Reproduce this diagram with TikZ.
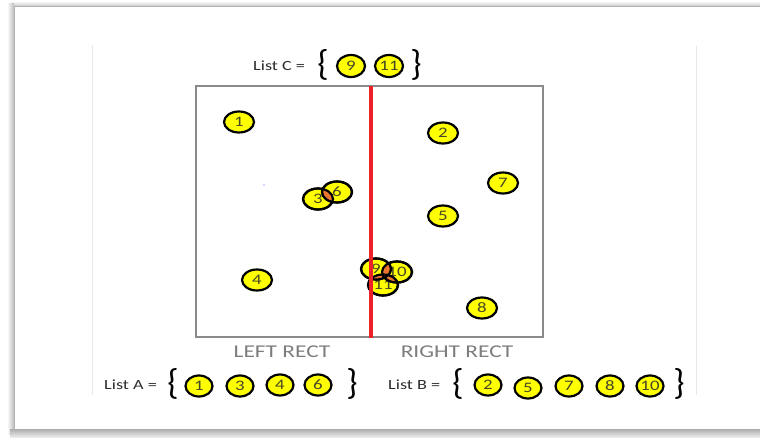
\documentclass[tikz,border=0pt]{standalone}
\usepackage{fontspec}
\setmainfont{Carlito}
\usetikzlibrary{shapes.geometric}

\definecolor{ballyellow}{RGB}{255,255,0}
\definecolor{overlap}{RGB}{236,118,48}
\definecolor{divred}{RGB}{236,34,40}
\definecolor{rectgray}{RGB}{138,138,138}
\definecolor{labelgray}{RGB}{125,125,125}
\definecolor{listtext}{RGB}{45,45,45}
\definecolor{numtext}{RGB}{70,70,40}
\definecolor{panelline}{RGB}{232,232,232}

% text in this figure is set slightly stretched sideways
\newcommand\hwide[1]{\scalebox{1.3}[1]{#1}}

\begin{document}
\begin{tikzpicture}[x=1pt,y=-1pt,
  ball/.style={ellipse, draw=black, line width=2.2pt, fill=ballyellow,
    minimum width=30pt, minimum height=21pt, inner sep=0pt,
    text=numtext, font=\fontsize{14.5}{14.5}\selectfont},
  listball/.style={ball, minimum width=27pt, minimum height=21pt},
  listlabel/.style={anchor=west, inner sep=0pt, text=listtext,
    font=\fontsize{14}{14}\selectfont},
  rectlabel/.style={inner sep=0pt, text=labelgray,
    font=\fontsize{18}{18}\selectfont},
  brace/.style={inner sep=0pt, text=black,
    font=\fontsize{36}{36}\selectfont},
  ring/.style={draw=black, line width=2.2pt}
]
\useasboundingbox (0,0) rectangle (760,438);

% ---- page with its bevelled shadow
\fill[white] (0,0) rectangle (760,438);
\shade[top color=white, bottom color=black!24] (10,1) rectangle (760,7);
\shade[left color=white, right color=black!26] (7,4) rectangle (14,434);
\shade[top color=black!32, bottom color=black!8] (10,429) rectangle (760,437);
\fill[white] (14,7) rectangle (760,429);
\draw[black!30, line width=1pt] (14,429) -- (14,7) -- (760,7);

% ---- faint inner panel edges
\draw[panelline, line width=1pt] (92,45) -- (92,395);
\draw[panelline, line width=1pt] (696,46) -- (696,395);

% ---- the region rectangle and its divider
\node[draw=rectgray, line width=2.4pt, minimum width=347pt, minimum height=251pt,
      inner sep=0pt] (region) at (369.5,211.5) {};
\coordinate (divtop) at (371,86);
\coordinate (divbot) at (371,338);

% ---- points in the plane
\node[ball] (b1)  at (239,122) {\hwide{1}};
\node[ball] (b2)  at (443,133) {\hwide{2}};
\node[ball] (b3)  at (318,199) {\hwide{3}};
\node[ball] (b6)  at (337,192) {\hwide{6}};
\node[ball] (b4)  at (257,280) {\hwide{4}};
\node[ball] (b5)  at (443,216) {\hwide{5}};
\node[ball] (b7)  at (503,183) {\hwide{7}};
\node[ball] (b8)  at (482,308) {\hwide{8}};
\node[ball] (b11) at (383,285) {\hwide{11}};
\node[ball] (b10) at (397,272) {\hwide{10}};
\node[ball] (b9)  at (376,269) {\hwide{9}};

% overlapping parts are tinted orange
\foreach \p/\q in {b3/b6, b9/b10, b9/b11, b10/b11}{
  \begin{scope}
    \clip (\p.center) ellipse [x radius=15pt, y radius=10.5pt];
    \fill[overlap] (\q.center) ellipse [x radius=15pt, y radius=10.5pt];
  \end{scope}
}
\foreach \p in {b3, b6, b9, b10, b11}{
  \draw[ring] (\p.center) ellipse [x radius=15pt, y radius=10.5pt];
}

% stray dot
\fill[blue!70] (264,185) circle (0.6pt);

\draw[divred, line width=3.6pt] (divtop) -- (divbot);

% ---- region names
\node[rectlabel] (lname) at (282,352) {\hwide{LEFT RECT}};
\node[rectlabel] (rname) at (457,352) {\hwide{RIGHT RECT}};

% ---- list C (points on the divider)
\node[listlabel] (lc) at (253,66) {\hwide{List C =}};
\node[brace] (lcl) at (323,65) {\{};
\node[listball, minimum width=28pt, minimum height=22pt] (c9)  at (351,66) {\hwide{9}};
\node[listball, minimum width=28pt, minimum height=22pt] (c11) at (389,66) {\hwide{11}};
\node[brace] (lcr) at (416,65) {\}};

% ---- list A (left region)
\node[listlabel] (la) at (104,385) {\hwide{List A =}};
\node[brace] (lal) at (173,384) {\{};
\node[listball] (a1) at (199,386) {\hwide{1}};
\node[listball] (a3) at (240,386) {\hwide{3}};
\node[listball] (a4) at (280,385) {\hwide{4}};
\node[listball] (a6) at (318,385) {\hwide{6}};
\node[brace] (lar) at (352,384) {\}};

% ---- list B (right region)
\node[listlabel] (lb) at (388,385) {\hwide{List B =}};
\node[brace] (lbl) at (458,384) {\{};
\node[listball] (r2)  at (488,385) {\hwide{2}};
\node[listball] (r5)  at (528,388) {\hwide{5}};
\node[listball] (r7)  at (569,386) {\hwide{7}};
\node[listball] (r8)  at (610,386) {\hwide{8}};
\node[listball] (r10) at (650,386) {\hwide{10}};
\node[brace] (lbr) at (679,384) {\}};
\end{tikzpicture}
\end{document}
